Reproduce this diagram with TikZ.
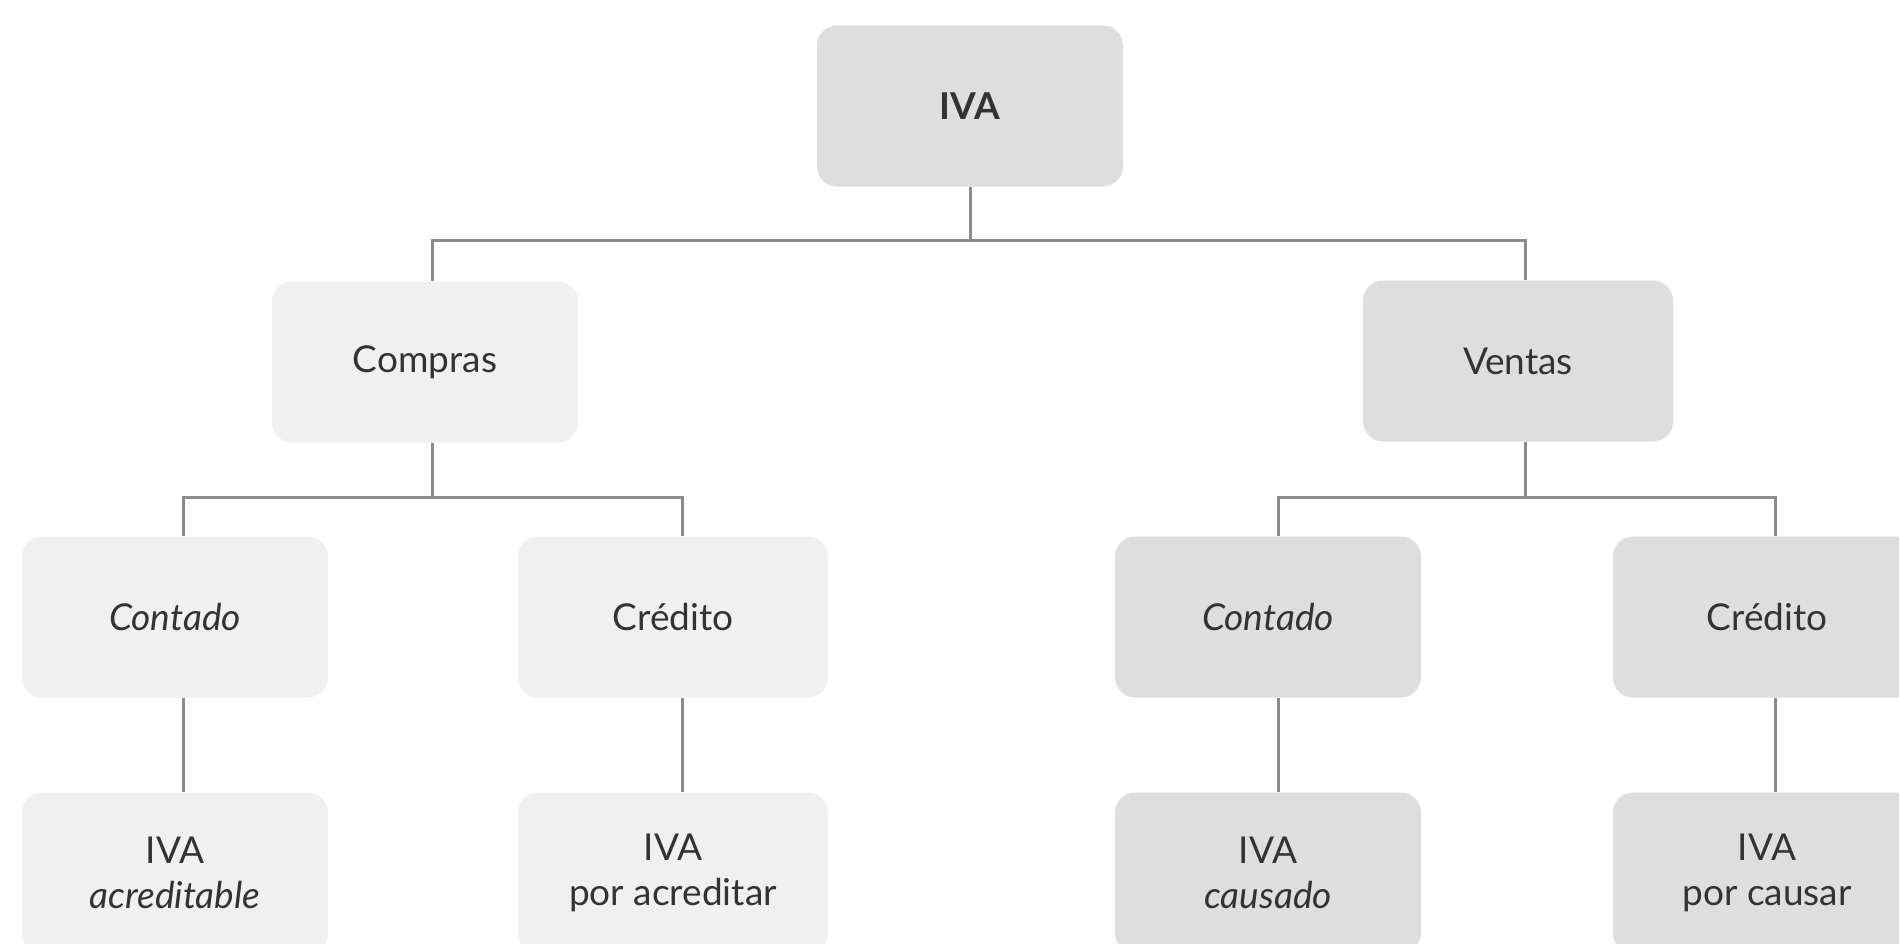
\documentclass[tikz,border=0pt]{standalone}
\usepackage{fontspec}
\setmainfont{Lato}
\begin{document}
\begin{tikzpicture}[x=1pt,y=-1pt,
  box/.style={rectangle, rounded corners=20pt, minimum width=306pt, minimum height=161pt, inner sep=0pt, align=center, text=black!80, font=\fontsize{37}{45}\selectfont},
  lightbox/.style={box, fill=black!6},
  darkbox/.style={box, fill=black!13},
  conn/.style={draw=black!45, line width=3pt}]
\useasboundingbox (0,0) rectangle (1899,943);
\fill[white] (0,0) rectangle (1899,943);
\node[darkbox, font=\fontsize{37}{45}\selectfont\bfseries] (iva) at (970,106) {IVA};
\node[lightbox] (compras) at (425,362) {Compras};
\node[darkbox, minimum width=310pt] (ventas) at (1518,361) {Ventas};
\node[lightbox] (contL) at (175,617) {\itshape Contado};
\node[lightbox, minimum width=310pt] (credL) at (673,617) {Crédito};
\node[darkbox] (contR) at (1268,617) {\itshape Contado};
\node[darkbox, minimum width=308pt] (credR) at (1767,617) {Crédito};
\node[lightbox] (acr) at (175,873) {IVA\\\itshape acreditable};
\node[lightbox, minimum width=310pt] (poracr) at (673,873) {IVA\\por acreditar};
\node[darkbox] (caus) at (1268,873) {IVA\\\itshape causado};
\node[darkbox, minimum width=308pt] (porcaus) at (1767,873) {IVA\\por causar};
\coordinate (bus1) at (0,240);
\coordinate (bus2) at (0,497);
\draw[conn] (iva.south) -- (iva.south |- bus1) -| ([xshift=7pt]compras.north);
\draw[conn] (iva.south |- bus1) -| ([xshift=7pt]ventas.north);
\draw[conn] ([xshift=7pt]compras.south) -- ([xshift=7pt]compras.south |- bus2) -| ([xshift=8pt]contL.north);
\draw[conn] ([xshift=7pt]compras.south |- bus2) -| ([xshift=9pt]credL.north);
\draw[conn] ([xshift=7pt]ventas.south) -- ([xshift=7pt]ventas.south |- bus2) -| ([xshift=10pt]contR.north);
\draw[conn] ([xshift=7pt]ventas.south |- bus2) -| ([xshift=8pt]credR.north);
\draw[conn] ([xshift=8pt]contL.south) -- ([xshift=8pt]acr.north);
\draw[conn] ([xshift=9pt]credL.south) -- ([xshift=9pt]poracr.north);
\draw[conn] ([xshift=10pt]contR.south) -- ([xshift=10pt]caus.north);
\draw[conn] ([xshift=8pt]credR.south) -- ([xshift=8pt]porcaus.north);
\end{tikzpicture}
\end{document}
